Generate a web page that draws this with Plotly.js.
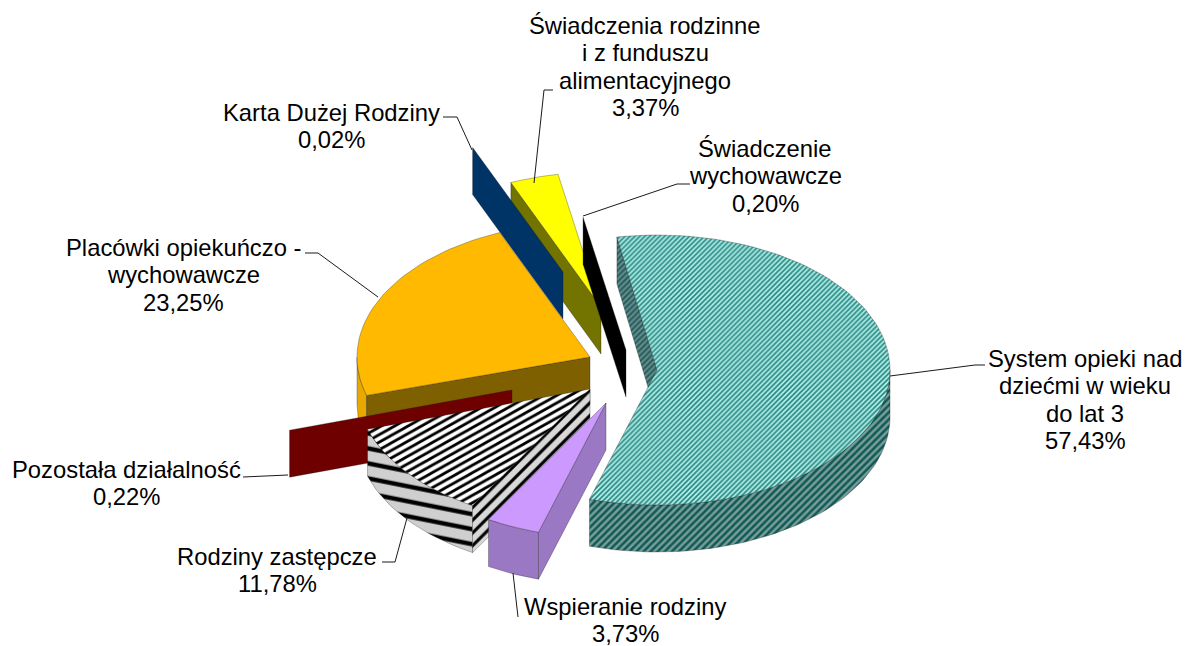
<!DOCTYPE html>
<html><head><meta charset="utf-8">
<script src="https://cdn.plot.ly/plotly-3.0.1.min.js"></script>
<style>html,body{margin:0;padding:0;background:#fff}#c{width:1185px;height:646px}</style>
</head><body><div id="c"></div>
<script>
// --- data ---
const categories = [["System opieki nad","dziećmi w wieku","do lat 3"],["Wspieranie rodziny"],["Rodziny zastępcze"],["Pozostała działalność"],["Placówki opiekuńczo -","wychowawcze"],["Karta Dużej Rodziny"],["Świadczenia rodzinne","i z funduszu","alimentacyjnego"],["Świadczenie","wychowawcze"]];
const shares = [57.43,3.73,11.78,0.22,23.25,0.02,3.37,0.20];

// --- pie geometry (exploded 3-D look) ---
const firstAngle = 350.1, radX = 233, radY = 135, depth = 47;
const centres = [[657,370],[606,403],[590,389],[512,390],[590,357],[563,272],[601,307],[626,350]];
const drawOrder = [0,6,7,5,4,3,2,1];
const styles = [
 {top:{c:'#6fc9c0',p:{shape:'/',size:3.5,solidity:.5,fgcolor:'#2a8a84',bgcolor:'#b4f0ea'}},
  side:{c:'#2c6464',p:{shape:'/',size:5,solidity:.5,fgcolor:'#0e5a54',bgcolor:'#7a9c9a'}},
  wall:{c:'#3f7878',p:{shape:'/',size:4,solidity:.5,fgcolor:'#2a5a5a',bgcolor:'#5f908e'}}},
 {top:{c:'#cc99ff'},side:{c:'#9a78c4'},wall:{c:'#9a78c4'}},
 {top:{c:'#fff',p:{shape:'/',size:9.5,solidity:.42,fgcolor:'#000',bgcolor:'#fff'},tf:'scale(1,0.56)'},
  side:{c:'#ccc',p:{shape:'\\',size:53,solidity:.3,fgcolor:'#000',bgcolor:'#cfcfcf'},tf:'scale(1,0.2)'},
  wall:{c:'#ccc',p:{shape:'/',size:9,solidity:.35,fgcolor:'#000',bgcolor:'#d8d8d8'}}},
 {top:{c:'#7a0000'},side:{c:'#6e0000'},wall:{c:'#6e0000'}},
 {top:{c:'#ffb900'},side:{c:'#e8a800'},wall:{c:'#7f6000'}},
 {top:{c:'#003366'},side:{c:'#003366'},wall:{c:'#003366'}},
 {top:{c:'#ffff00'},side:{c:'#7f7f00'},wall:{c:'#737300'}},
 {top:{c:'#000'},side:{c:'#000'},wall:{c:'#000'}}
];
const labelPos = [[1085,358],[625,606],[277,556],[126,469],[183,247],[331,112],[645,25],[765,148]];
const lineGap = 27.6;
const leaders = [
 [[890,376],[975,365],[985,365]],
 [[513,573],[518,617]],
 [[407,518],[395,562],[382,562]],
 [[288,475],[243,477]],
 [[378,297],[318,253],[305,253]],
 [[472,150],[457,117],[443,117]],
 [[534,183],[544,90],[553,90]],
 [[583,216],[677,184],[690,184]]
];

// --- build ---
const rad = d => d*Math.PI/180;
const pt = (c,t,dz=0) => [c[0]+radX*Math.sin(rad(t)), c[1]-radY*Math.cos(rad(t))+dz];
const total = shares.reduce((a,b)=>a+b,0);
let acc = firstAngle; const spans = shares.map(v=>{const s=[acc,acc+v/total*360];acc=s[1];return s;});

const traces = [], tf = {};
function poly(pts, st){
  const xs = pts.map(p=>p[0]).concat(pts[0][0]), ys = pts.map(p=>p[1]).concat(pts[0][1]);
  const tr = {type:'scatter',mode:'lines',x:xs,y:ys,fill:'toself',fillcolor:st.c,
    line:{color:'rgba(20,20,20,0.5)',width:0.6},hoverinfo:'skip',showlegend:false};
  if(st.p) tr.fillpattern = st.p;
  if(st.tf) tf[traces.length] = st.tf;
  traces.push(tr);
}
function arc(c,a,b,dz){const n=Math.max(2,Math.ceil(Math.abs(b-a)/2)),o=[];for(let i=0;i<=n;i++)o.push(pt(c,a+(b-a)*i/n,dz));return o;}

for(const i of drawOrder){
  const c=centres[i], [a,b]=spans[i], st=styles[i];
  // outer side: the part of the rim facing the viewer
  let s=((a%360)+360)%360; if(s>=270) s-=360; const e=s+(b-a);
  const lo=Math.max(s,90), hi=Math.min(e,270);
  if(hi>lo && b-a>2) poly(arc(c,lo,hi,0).concat(arc(c,hi,lo,depth)),st.side);
  // cut face at the start angle
  poly([c,pt(c,a),pt(c,a,depth),[c[0],c[1]+depth]],st.wall);
  // top
  if(b-a>2) poly([c].concat(arc(c,a,b,0)),st.top);
}
for(const l of leaders) traces.push({type:'scatter',mode:'lines',x:l.map(p=>p[0]),y:l.map(p=>p[1]),
  line:{color:'#1a1a1a',width:1},hoverinfo:'skip',showlegend:false});

const fmt = v => v.toFixed(2).replace('.',',')+'%';
const annotations = [];
categories.forEach((lines,i)=>{
  lines.concat(fmt(shares[i])).forEach((t,j)=>annotations.push({xref:'x',yref:'y',x:labelPos[i][0],y:labelPos[i][1]+j*lineGap,
    text:t,showarrow:false,xanchor:'center',yanchor:'middle',
    font:{family:'Liberation Sans, Arial, sans-serif',size:23.8,color:'#000'}}));
});

const layout = {width:1185,height:646,margin:{l:0,r:0,t:0,b:0,pad:0},paper_bgcolor:'#fff',plot_bgcolor:'#fff',
  showlegend:false,annotations,
  xaxis:{range:[0,1185],visible:false,fixedrange:true},
  yaxis:{range:[646,0],visible:false,fixedrange:true}};

Plotly.newPlot('c',traces,layout,{displayModeBar:false,staticPlot:true}).then(gd=>{
  gd.querySelectorAll('.scatterlayer .trace').forEach(g=>{
    const d=g.__data__; const idx=d&&d[0]&&d[0].trace?d[0].trace.index:-1;
    if(tf[idx]===undefined) return;
    const f=g.querySelector('.js-fill'); if(!f) return;
    const m=/url\(["']?[^#]*#([^"')]+)/.exec(f.style.fill||f.getAttribute('fill')||''); if(!m) return;
    const p=document.getElementById(m[1]); if(p) p.setAttribute('patternTransform',tf[idx]);
  });
});
</script></body></html>
